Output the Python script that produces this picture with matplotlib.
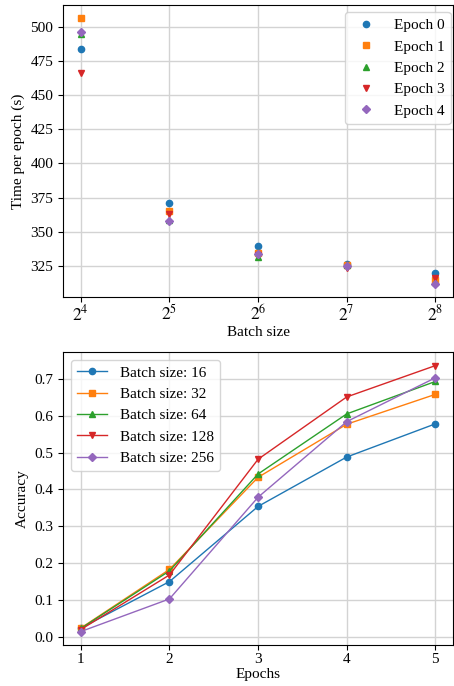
import matplotlib
matplotlib.use('Agg')
import matplotlib.pyplot as plt
import numpy as np

plt.rcParams['font.family'] = ['Liberation Serif', 'DejaVu Serif']
plt.rcParams['mathtext.fontset'] = 'stix'
plt.rcParams['font.size'] = 11

# timing per epoch for each batch size
batch_sizes = [16, 32, 64, 128, 256]
epoch_labels = ['Epoch 0', 'Epoch 1', 'Epoch 2', 'Epoch 3', 'Epoch 4']
epoch0_time = [483.6, 371.0, 339.5, 326.5, 319.5]
epoch1_time = [506.6, 365.4, 334.6, 325.8, 314.6]
epoch2_time = [495.2, 358.8, 331.4, 325.5, 313.2]
epoch3_time = [466.3, 363.2, 333.0, 323.5, 316.3]
epoch4_time = [496.3, 358.0, 333.9, 324.9, 311.6]

# accuracy per epoch for each batch size
epochs = [1, 2, 3, 4, 5]
acc_bs16 = [0.024, 0.150, 0.354, 0.488, 0.578]
acc_bs32 = [0.024, 0.183, 0.433, 0.577, 0.658]
acc_bs64 = [0.023, 0.179, 0.442, 0.605, 0.693]
acc_bs128 = [0.020, 0.168, 0.482, 0.651, 0.736]
acc_bs256 = [0.0145, 0.103, 0.379, 0.584, 0.703]

markers = ['o', 's', '^', 'v', 'D']
colors = ['#1f77b4', '#ff7f0e', '#2ca02c', '#d62728', '#9467bd']

fig, (ax1, ax2) = plt.subplots(2, 1, figsize=(4.54, 6.86), dpi=100)
fig.subplots_adjust(left=0.139, right=0.998, top=0.993, bottom=0.060, hspace=0.188)

times = [epoch0_time, epoch1_time, epoch2_time, epoch3_time, epoch4_time]
for t, lab, m, c in zip(times, epoch_labels, markers, colors):
    ax1.plot(batch_sizes, t, linestyle='none', marker=m, color=c,
             markersize=4.5 if m != 'D' else 4, label=lab)
ax1.set_xscale('log', base=2)
ax1.set_xticks(batch_sizes)
ax1.set_xticklabels([r'$2^{%d}$' % int(np.log2(b)) for b in batch_sizes])
ax1.minorticks_off()
ax1.tick_params(axis='x', labelsize=12.5, pad=1.5)
ax1.set_xlabel('Batch size', labelpad=1)
ax1.set_ylabel('Time per epoch (s)')
ax1.grid(True, color='#d3d3d3', linewidth=1)
ax1.set_axisbelow(True)
ax1.legend(loc='upper right', bbox_to_anchor=(1.013, 1.0))

accs = [acc_bs16, acc_bs32, acc_bs64, acc_bs128, acc_bs256]
for a, b, m, c in zip(accs, batch_sizes, markers, colors):
    ax2.plot(epochs, a, marker=m, color=c, linewidth=1,
             markersize=4.5 if m != 'D' else 4, label='Batch size: %d' % b)
ax2.set_xticks(epochs)
ax2.tick_params(axis='x', pad=2.5)
ax2.set_xlabel('Epochs', labelpad=1)
ax2.set_ylabel('Accuracy')
ax2.grid(True, color='#d3d3d3', linewidth=1)
ax2.set_axisbelow(True)
ax2.legend(loc='upper left')

fig.savefig('out.png', dpi=100)
